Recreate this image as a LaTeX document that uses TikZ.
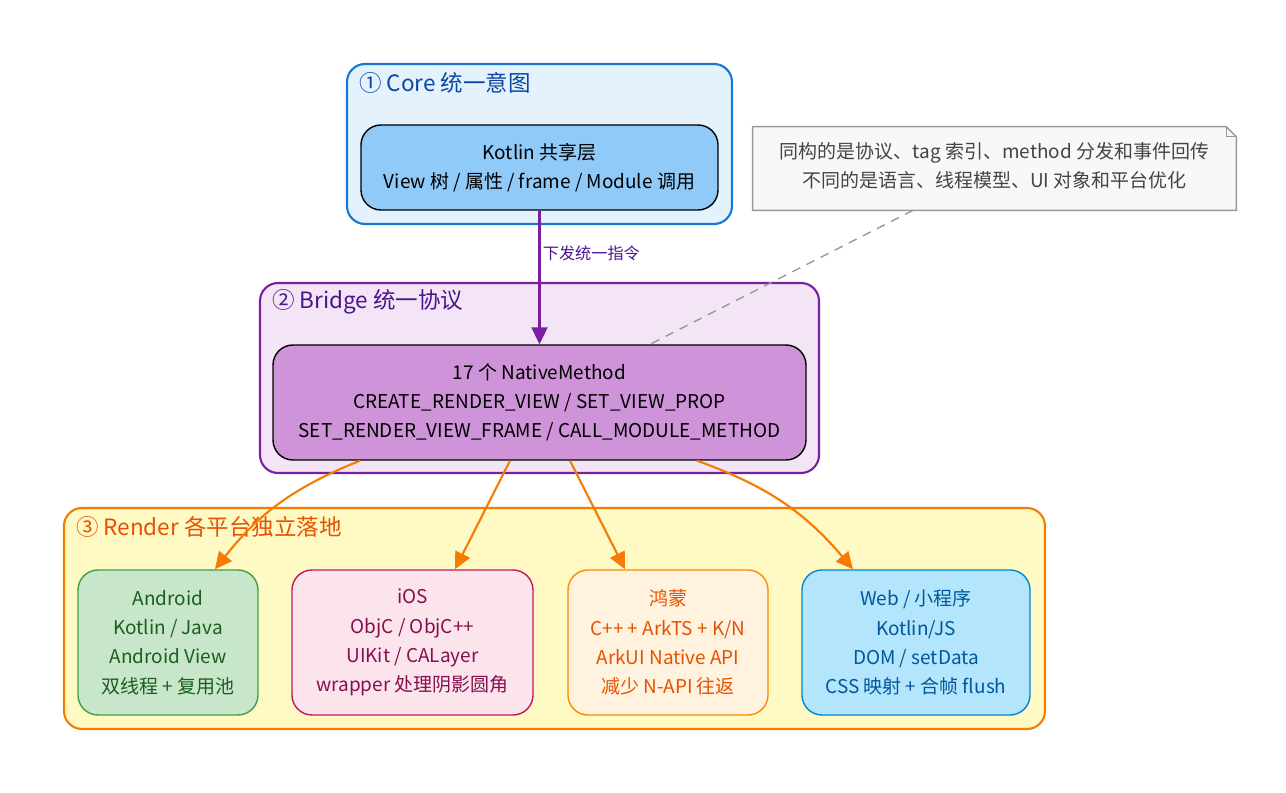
\documentclass[tikz,border=0pt]{standalone}
\usepackage{fontspec}
\setmainfont{Noto Sans CJK SC}
\usetikzlibrary{arrows.meta,positioning}
\definecolor{coreFill}{HTML}{E3F2FD}\definecolor{coreLine}{HTML}{1976D2}\definecolor{coreText}{HTML}{0D47A1}
\definecolor{kotFill}{HTML}{90CAF9}
\definecolor{brFill}{HTML}{F3E5F5}\definecolor{brLine}{HTML}{7B1FA2}\definecolor{brText}{HTML}{4A148C}
\definecolor{nmFill}{HTML}{CE93D8}
\definecolor{rdFill}{HTML}{FFF9C4}\definecolor{rdLine}{HTML}{F57C00}\definecolor{rdText}{HTML}{E65100}
\definecolor{anFill}{HTML}{C8E6C9}\definecolor{anLine}{HTML}{43A047}\definecolor{anText}{HTML}{1B5E20}
\definecolor{ioFill}{HTML}{FCE4EC}\definecolor{ioLine}{HTML}{C2185B}\definecolor{ioText}{HTML}{880E4F}
\definecolor{hmFill}{HTML}{FFF3E0}\definecolor{hmLine}{HTML}{FB8C00}\definecolor{hmText}{HTML}{E65100}
\definecolor{wbFill}{HTML}{B3E5FC}\definecolor{wbLine}{HTML}{0288D1}\definecolor{wbText}{HTML}{01579B}
\definecolor{noteFill}{HTML}{F8F8F8}\definecolor{noteLine}{HTML}{999999}\definecolor{noteText}{HTML}{444444}
\begin{document}
\begin{tikzpicture}[
  cluster/.style={draw,line width=1.2pt,rounded corners=0.36cm},
  ctitle/.style={anchor=west,font=\fontsize{12.8}{15}\selectfont},
  box/.style={draw,line width=0.8pt,rounded corners=0.4cm,align=center,font=\fontsize{10.8}{16.6}\selectfont},
  plat/.style={box,minimum height=2.9cm},
  arr/.style={-{Triangle[length=3.4mm,width=3.2mm]},line width=1.2pt}]
\useasboundingbox (0,0) rectangle (25.72,-15.86);
% clusters
\node[cluster,fill=coreFill,draw=coreLine,minimum width=7.7cm,minimum height=3.2cm] (core) at (10.79,-2.88) {};
\node[ctitle,text=coreText] (coret) at ([shift={(0.14,-0.4)}]core.north west) {① Core 统一意图};
\node[cluster,fill=brFill,draw=brLine,minimum width=11.18cm,minimum height=3.8cm] (bridge) at (10.79,-7.56) {};
\node[ctitle,text=brText] (bridget) at ([shift={(0.14,-0.4)}]bridge.north west) {② Bridge 统一协议};
\node[cluster,fill=rdFill,draw=rdLine,minimum width=19.62cm,minimum height=4.42cm] (render) at (11.09,-12.37) {};
\node[ctitle,text=rdText] (rendert) at ([shift={(0.14,-0.4)}]render.north west) {③ Render 各平台独立落地};
% nodes
\node[box,fill=kotFill,minimum width=7.14cm,minimum height=1.7cm] (kotlin) at (10.79,-3.35) {Kotlin 共享层\\View 树 / 属性 / frame / Module 调用};
\node[box,fill=nmFill,minimum width=10.66cm,minimum height=2.3cm] (native) at (10.79,-8.05)
  {17 个 NativeMethod\\CREATE\_RENDER\_VIEW / SET\_VIEW\_PROP\\SET\_RENDER\_VIEW\_FRAME / CALL\_MODULE\_METHOD};
\node[plat,fill=anFill,draw=anLine,text=anText,minimum width=3.6cm] (android) at (3.36,-12.85) {Android\\Kotlin / Java\\Android View\\双线程 + 复用池};
\node[plat,fill=ioFill,draw=ioLine,text=ioText,minimum width=4.82cm] (ios) at (8.25,-12.85) {iOS\\ObjC / ObjC++\\UIKit / CALayer\\wrapper 处理阴影圆角};
\node[plat,fill=hmFill,draw=hmLine,text=hmText,minimum width=4cm] (harmony) at (13.36,-12.85) {鸿蒙\\C++ + ArkTS + K/N\\ArkUI Native API\\减少 N-API 往返};
\node[plat,fill=wbFill,draw=wbLine,text=wbText,minimum width=4.56cm] (web) at (18.32,-12.85) {Web / 小程序\\Kotlin/JS\\DOM / setData\\CSS 映射 + 合帧 flush};
% note
\node[minimum width=9.66cm,minimum height=1.66cm] (note) at (19.89,-3.37) {};
\draw[noteLine,fill=noteFill,line width=0.8pt] (note.north west) -- ([xshift=-0.2cm]note.north east) -- ([yshift=-0.2cm]note.north east)
  -- (note.south east) -- (note.south west) -- cycle;
\draw[noteLine,line width=0.8pt] ([xshift=-0.2cm]note.north east) |- ([yshift=-0.2cm]note.north east);
\node[align=center,text=noteText,font=\fontsize{10.8}{16.6}\selectfont] (notetxt) at ([yshift=0.06cm]note) {同构的是协议、tag 索引、method 分发和事件回传\\不同的是语言、线程模型、UI 对象和平台优化};
\draw[noteLine,line width=0.8pt,dash pattern=on 5pt off 4pt] ([xshift=-1.63cm]note.south) -- ([xshift=2.21cm]native.north);
% connectors
\draw[arr,brLine] (kotlin.south) -- node[pos=0.32,right=-2pt,text=brText,font=\fontsize{9.2}{11}\selectfont] (cmd) {下发统一指令} (native.north);
\draw[arr,rdLine] ([xshift=-3.59cm]native.south) to[bend right=15] ([xshift=0.94cm]android.north);
\draw[arr,rdLine] ([xshift=-0.59cm]native.south) -- ([xshift=0.85cm]ios.north);
\draw[arr,rdLine] ([xshift=0.61cm]native.south) -- ([xshift=-0.86cm]harmony.north);
\draw[arr,rdLine] ([xshift=3.15cm]native.south) to[bend left=15] ([xshift=-1.26cm]web.north);
\end{tikzpicture}
\end{document}
